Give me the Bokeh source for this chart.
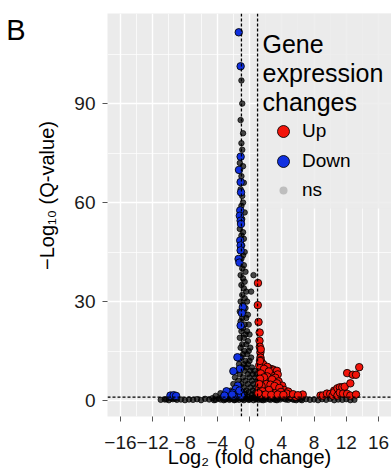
import math
from bokeh.plotting import figure
from bokeh.models import (FixedTicker, Span, Label, Legend, LegendItem,
                          BoxAnnotation, LinearAxis)
from bokeh.embed import file_html
from bokeh.resources import INLINE

# ---------------- data ----------------
fc_cut = 1.0      # |log2 fold change| threshold
q_cut = 1.0       # -log10(Q) threshold

x_ticks = [-16, -12, -8, -4, 0, 4, 8, 12, 16]
x_tick_labels = ["\u221216", "\u221212", "\u22128", "\u22124", "0", "4", "8", "12", "16"]
x_minor = [-14, -10, -6, -2, 2, 6, 10, 14]
y_ticks = [0, 30, 60, 90]
y_tick_labels = ["0", "30", "60", "90"]
y_minor = [15, 45, 75, 105]

panel_letter = "B"
x_title = "Log\u2082 (fold change)"
y_title = "\u2212Log\u2081\u2080 (Q-value)"
legend_title = ["Gene", "expression", "changes"]

down_x = [-1.33, -1.10, -1.10, -1.30, -1.10, -1.05, -1.15, -1.20, -1.10, -1.05,
          -1.15, -1.10, -1.10, -1.35, -1.25, -0.83, -0.95, -1.10, -1.30, -1.50,
          -1.20, -2.00, -1.45, -1.70, -2.10, -1.60, -1.10, -2.00, -2.85, -3.10,
          -2.15, -1.03, -1.25, -9.80, -9.40, -9.10]
down_y = [111.6, 101.3, 73.9, 69.9, 66.2, 63.1, 57.6, 56.0, 54.5, 53.5,
          48.5, 47.0, 45.5, 42.9, 41.8, 28.3, 26.5, 22.7, 12.9, 13.1,
          9.6, 8.9, 4.5, 3.5, 2.3, 1.8, 2.0, 1.5, 2.8, 1.5,
          1.8, 1.5, 3.0, 1.5, 1.6, 1.4]

up_x = [1.05, 1.03, 1.12, 1.26, 1.24, 1.28, 1.35, 1.36, 1.5, 1.6,
        1.3, 1.9, 2.0, 2.6, 2.9, 3.0, 3.4, 3.5, 2.7, 3.1,
        3.2, 2.4, 1.6, 3.6, 4.05, 2.0, 2.9, 4.3, 1.2, 2.4,
        3.3, 4.8, 5.1, 5.7, 6.6,
        1.4, 1.7, 1.2, 2.2, 1.8, 2.4, 1.4, 2.2, 1.8, 1.3,
        2.8, 3.4, 2.1, 2.6, 1.5, 3.1, 3.7, 2.4, 1.6, 3.9,
        4.6, 1.4, 2.0, 2.7, 3.5, 4.2, 5.4, 6.0, 1.1, 1.2,
        1.4, 1.3,
        8.8, 9.1, 9.6, 10.0, 10.3, 10.5, 10.5, 10.9, 10.9, 11.2,
        11.2, 11.5, 11.6, 11.8, 12.1, 12.5, 12.5, 12.1, 12.8, 13.2,
        13.2, 13.6]
up_y = [35.6, 28.9, 23.8, 20.6, 18.1, 16.3, 14.6, 13.0, 11.5, 10.1,
        9.1, 8.5, 8.1, 9.6, 9.4, 9.1, 9.0, 7.9, 7.6, 6.7,
        6.9, 6.1, 5.5, 5.8, 4.5, 3.9, 3.6, 3.2, 3.6, 2.1,
        2.4, 2.7, 1.5, 1.2, 1.8,
        12.2, 11.0, 10.6, 10.2, 9.6, 8.8, 8.2, 7.3, 7.0, 6.6,
        6.4, 5.2, 5.0, 4.8, 4.4, 4.4, 3.8, 3.2, 2.8, 2.6,
        2.1, 1.8, 1.8, 1.7, 1.8, 1.7, 1.9, 1.6, 2.2, 5.0,
        15.5, 12.0,
        1.5, 1.5, 2.1, 2.0, 1.5, 3.0, 2.5, 3.7, 1.5, 4.0,
        2.4, 4.0, 2.1, 4.2, 2.0, 5.2, 1.5, 8.3, 7.8, 7.8,
        1.8, 10.1]

ns_column_x = [-1.0, -0.9, -1.1, -0.8, -1.0, -0.9, -1.2, -0.8, -1.0, -0.7,
               -1.1, -0.9, -0.8, -1.0, -0.6, -0.9, -1.2, -0.8, -1.0, -0.7,
               -0.9, -1.1, -0.6, -0.8, -1.0, -0.7, -0.9, -0.5, -1.1, -0.8,
               -0.6, -1.0, -0.7, -0.4, -0.9, -0.6, -1.1, -0.3, -0.8, -0.5]
ns_column_y = [97, 90, 85, 81, 78, 76, 72, 71, 68, 66,
               64, 62, 60, 59, 57, 55, 52, 51, 50, 49,
               47, 46, 45, 44, 43, 41, 40, 39, 38, 37,
               36, 35, 34, 33, 32, 31, 30, 30, 29, 28]
ns_mid_x = [-1.2, -0.7, -0.2, -0.9, -0.4, -1.1, -0.6, -0.1, -0.8, -0.3,
            -1.0, -0.5, 0.0, -1.2, -0.7, -0.2, -0.9, -0.4, 0.1, -1.1,
            -0.6, -0.1, -0.8, -0.3, 0.2, -1.0, -0.5, 0.0, -1.3, -0.7,
            -0.2, 0.3, -0.9, -0.4, 0.5, 0.2]
ns_mid_y = [27, 27, 26, 25, 25, 24, 23, 23, 22, 21,
            21, 20, 20, 19, 19, 18, 17, 17, 16, 16,
            15, 15, 14, 14, 13, 13, 12, 12, 11, 11,
            11, 10, 10, 10, 38, 33]
ns_low_x = [-1.6, -0.6, 0.1, 0.6, -1.2, -0.2, 0.4, 0.9, -1.8, -0.8,
            0.0, 0.7, -1.4, -0.5, 0.3, 1.0, -2.0, -1.0, -0.2, 0.5,
            1.2, -1.6, -0.7, 0.1, 0.8, 1.5, -2.3, -1.3, -0.4, 0.4,
            1.1, 1.8]
ns_low_y = [9, 9, 9, 9, 8, 8, 8, 8, 7, 7,
            7, 7, 6, 6, 6, 6, 5, 5, 5, 5,
            5, 4, 4, 4, 4, 4, 3, 3, 3, 3,
            3, 3]
ns_near_x = [-3.6, -2.6, -1.8, -0.9, -0.1, 0.7, 1.4, 2.2, 3.0, 3.8,
             4.6, -4.2, -3.2, -2.3, -1.4, -0.5, 0.3, 1.0, 1.8, 2.6,
             3.4, 4.2, 5.0, 5.8, 6.6]
ns_near_y = [2.2, 2.5, 2.4, 2.6, 2.5, 2.4, 2.6, 2.3, 2.5, 2.2,
             2.0, 1.4, 1.6, 1.8, 1.7, 1.9, 1.8, 1.6, 1.5, 1.7,
             1.4, 1.5, 1.2, 1.1, 1.0]
ns_base_x = [-11.0, -10.5, -10.0, -9.5, -9.0, -8.5, -8.0, -7.5, -7.0, -6.5,
             -6.0, -5.5, -5.0, -4.6, -4.2, -3.8, -3.4, -3.0, -2.7, -2.4,
             -2.1, -1.8, -1.5, -1.2, -0.9, -0.6, -0.3, 0.0, 0.3, 0.6,
             0.9, 1.2, 1.5, 1.8, 2.1, 2.4, 2.8, 3.2, 3.6, 4.0,
             4.5, 5.0, 5.5, 6.0, 6.5, 7.0, 7.5, 8.0, 8.5, 9.0,
             9.5, 10.0, 10.5, 11.0, 11.5, 12.0, 12.5, 13.0]
ns_base_y = [0.2, 0.3, 0.1, 0.4, 0.2, 0.3, 0.1, 0.3, 0.2, 0.4,
             0.1, 0.5, 0.3, 0.7, 0.2, 0.6, 0.9, 0.3, 0.8, 0.5,
             1.0, 0.2, 0.7, 1.1, 0.4, 0.9, 1.2, 0.3, 0.8, 1.1,
             0.5, 0.9, 0.2, 0.7, 1.0, 0.4, 0.8, 0.2, 0.6, 0.9,
             0.3, 0.7, 0.2, 0.5, 0.1, 0.4, 0.2, 0.3, 0.1, 0.4,
             0.2, 0.5, 0.1, 0.3, 0.2, 0.4, 0.1, 0.2]
ns_base2_x = [-4.4, -3.6, -3.2, -2.9, -2.5, -2.2, -1.9, -1.6, -1.3, -1.0,
              -0.7, -0.4, -0.1, 0.2, 0.5, 0.8, 1.1, 1.4, 1.7, 2.0,
              2.6, 3.0, 3.4, 3.8, 4.3, 4.8, 5.3, 5.8, 6.3, -9.7,
              -9.2, -10.3]
ns_base2_y = [0.1, 0.3, 0.1, 0.4, 0.2, 0.5, 0.1, 0.4, 0.2, 0.6,
              0.1, 0.5, 0.2, 0.6, 0.1, 0.4, 0.2, 0.5, 0.1, 0.3,
              0.2, 0.4, 0.1, 0.3, 0.5, 0.2, 0.4, 0.1, 0.3, 0.6,
              0.5, 0.4]

ns_x = ns_column_x + ns_mid_x + ns_low_x + ns_near_x + ns_base_x + ns_base2_x
ns_y = ns_column_y + ns_mid_y + ns_low_y + ns_near_y + ns_base_y + ns_base2_y

# ---------------- figure ----------------
FONT = "Liberation Sans"
p = figure(width=391, height=473, title=None,
           x_range=(-17.6, 17.6), y_range=(-4.85, 117.3),
           output_backend="svg", toolbar_location=None,
           min_border_left=107, min_border_right=0,
           min_border_top=13, min_border_bottom=57)
p.background_fill_color = "#EBEBEB"
p.border_fill_color = "white"
p.outline_line_color = None

p.xaxis.ticker = FixedTicker(ticks=x_ticks, minor_ticks=x_minor)
p.yaxis.ticker = FixedTicker(ticks=y_ticks, minor_ticks=y_minor)
p.xgrid.ticker = FixedTicker(ticks=x_ticks, minor_ticks=x_minor)
p.ygrid.ticker = FixedTicker(ticks=y_ticks, minor_ticks=y_minor)
p.xaxis.major_label_overrides = dict(zip(x_ticks, x_tick_labels))
p.yaxis.major_label_overrides = dict(zip(y_ticks, y_tick_labels))

for g in (p.xgrid, p.ygrid):
    g.grid_line_color = "white"
    g.grid_line_width = 1.4
    g.minor_grid_line_color = "white"
    g.minor_grid_line_width = 0.7

for ax in (p.xaxis, p.yaxis):
    ax.axis_line_color = None
    ax.major_tick_line_color = "#555555"
    ax.major_tick_line_width = 1
    ax.major_tick_out = 5
    ax.major_tick_in = 0
    ax.minor_tick_line_color = None
    ax.major_label_text_font = FONT
    ax.major_label_text_font_size = "19px"
    ax.major_label_text_color = "#1a1a1a"
    ax.axis_label_text_font = FONT
    ax.axis_label_text_font_size = "20px"
    ax.axis_label_text_font_style = "normal"
    ax.axis_label_text_color = "black"
p.xaxis.major_label_standoff = 14
p.yaxis.major_label_standoff = 7
p.xaxis.axis_label = x_title
p.xaxis.axis_label_standoff = -6
# non-breaking spaces nudge the centred title upwards, as in the reference
p.yaxis.axis_label = "\u00a0" * 7 + y_title
p.yaxis.axis_label_standoff = 13

# the panel letter, carried by an extra (tick-less) axis so it can sit in the margin
letter_axis = LinearAxis(ticker=FixedTicker(ticks=[112.4]),
                         major_label_overrides={112.4: panel_letter},
                         axis_line_color=None, major_tick_line_color=None,
                         minor_tick_line_color=None, major_tick_out=0,
                         major_tick_in=0, major_label_standoff=8,
                         major_label_text_font=FONT,
                         major_label_text_font_size="29px",
                         major_label_text_color="black")
p.add_layout(letter_axis, "left")

# backdrop of the legend area
p.add_layout(BoxAnnotation(left=1.1, bottom=58.2, fill_color="#EBEBEB",
                           fill_alpha=0.85, line_color=None))

# points
r_ns = p.scatter(ns_x, ns_y, size=5.5, fill_color="black", fill_alpha=0.7,
                 line_color="black", line_alpha=0.9, line_width=0.8)
r_up = p.scatter(up_x, up_y, size=7.5, fill_color="#F2140A", fill_alpha=1.0,
                 line_color="black", line_alpha=0.85, line_width=1)
r_down = p.scatter(down_x, down_y, size=7.5, fill_color="#1030E0", fill_alpha=1.0,
                   line_color="black", line_alpha=0.85, line_width=1)
# legend-key proxy for "ns" (a single undrawable point)
r_ns_key = p.scatter(x=[float("nan")], y=[float("nan")], size=8,
                     fill_color="#BEBEBE", line_color=None)

# threshold lines
for loc in (-fc_cut, fc_cut):
    p.add_layout(Span(location=loc, dimension="height", line_color="black",
                      line_dash="3 2", line_width=1.3))
p.add_layout(Span(location=q_cut, dimension="width", line_color="black",
                  line_dash="3 2", line_width=1.3))

# legends
leg_a = Legend(items=[LegendItem(label="Up", renderers=[r_up]),
                      LegendItem(label="Down", renderers=[r_down])],
               location=(161, 240), glyph_width=30, glyph_height=30,
               label_height=30, spacing=0, padding=0, margin=0,
               label_standoff=4, border_line_color=None,
               background_fill_alpha=0, label_text_font=FONT,
               label_text_font_size="19px", label_text_color="black")
leg_b = Legend(items=[LegendItem(label="ns", renderers=[r_ns_key])],
               location=(166, 215), glyph_width=20, glyph_height=20,
               label_height=20, spacing=0, padding=0, margin=0,
               label_standoff=9, border_line_color=None,
               background_fill_alpha=0, label_text_font=FONT,
               label_text_font_size="19px", label_text_color="black")
p.add_layout(leg_a)
p.add_layout(leg_b)

# legend title (inside the frame; screen units relative to the frame)
for line, yy in zip(legend_title, [372.5, 343.5, 314.5]):
    p.add_layout(Label(x=155, y=yy, x_units="screen", y_units="screen",
                       text=line, text_font=FONT, text_font_size="25px",
                       text_color="black", text_baseline="alphabetic",
                       text_align="left"))

open("out.html", "w").write(file_html(p, INLINE))
